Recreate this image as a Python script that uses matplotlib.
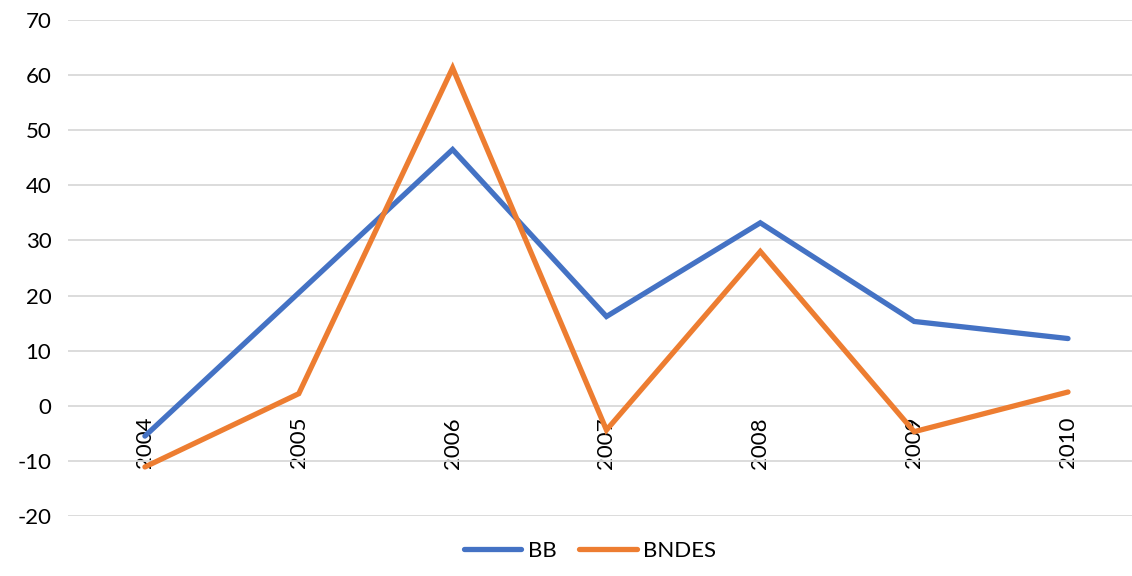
import matplotlib
matplotlib.use('Agg')
import matplotlib.pyplot as plt

years = ['2004', '2005', '2006', '2007', '2008', '2009', '2010']
bb = [-5.5, 20.5, 46.5, 16.2, 33.2, 15.3, 12.2]
bndes = [-11.1, 2.2, 61.3, -4.4, 28.0, -4.7, 2.5]

plt.rcParams['font.family'] = ['Lato', 'DejaVu Sans']
plt.rcParams['axes.unicode_minus'] = False

fig = plt.figure(figsize=(11.32, 5.76), dpi=100)
ax = fig.add_axes([68 / 1132, 1 - 516 / 576, 1 - 68 / 1132, 496 / 576])

# x轴放在0处
for s in ['top', 'right', 'left']:
    ax.spines[s].set_visible(False)
ax.spines['bottom'].set_position(('data', 0))
ax.spines['bottom'].set_visible(False)

x = range(len(years))
ax.plot(x, bb, color='#4472C4', lw=3.8, label='BB', solid_capstyle='round', solid_joinstyle='miter')
ax.plot(x, bndes, color='#ED7D31', lw=3.8, label='BNDES', solid_capstyle='round', solid_joinstyle='miter')

ax.set_ylim(-20, 70)
ax.set_yticks(range(-20, 71, 10))
ax.set_xlim(-0.5, 6.416)
ax.set_xticks(list(x))
ax.set_xticklabels(years, rotation=90, va='top', ha='center')

ax.grid(axis='y', color='#d9d9d9', lw=1.3)
ax.set_axisbelow(True)
ax.tick_params(axis='x', length=0, pad=8, labelsize=16, colors='#000000')
ax.tick_params(axis='y', length=0, pad=12, labelsize=16, colors='#000000')

fig.legend(loc='lower center', bbox_to_anchor=(590 / 1132, -0.008), ncol=2, frameon=False,
           fontsize=16, handlelength=2.6, columnspacing=1.0, handletextpad=0.3)

fig.savefig('out.png', dpi=100)
